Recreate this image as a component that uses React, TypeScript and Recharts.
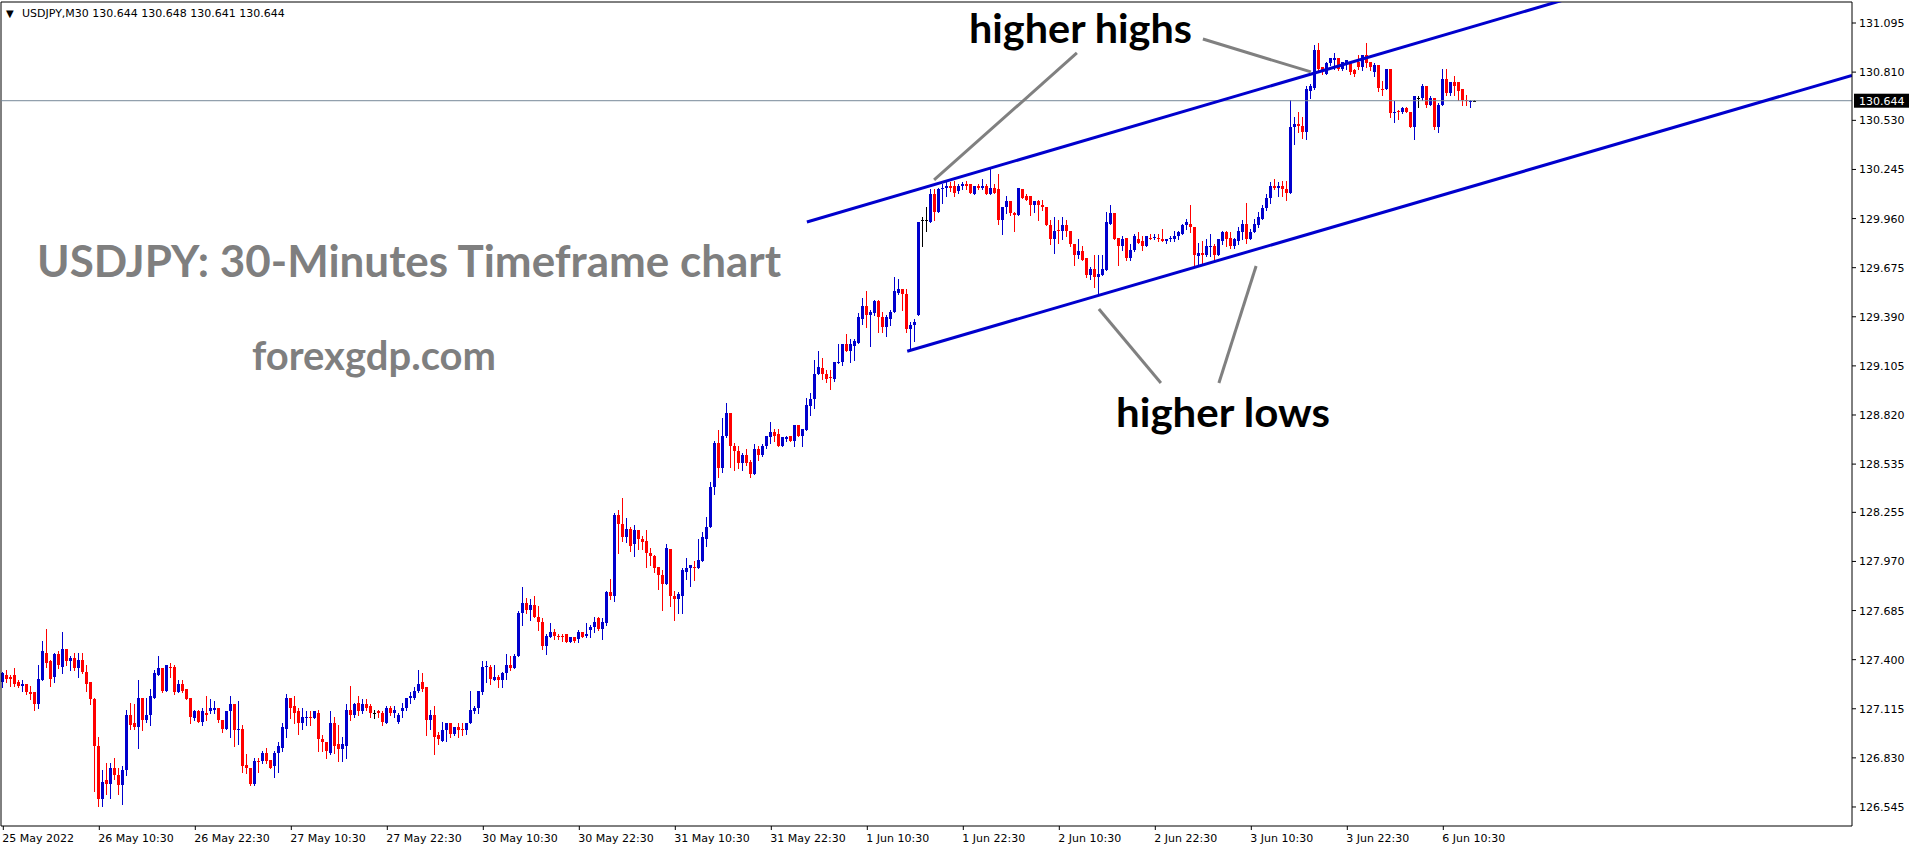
import React from "react";
import { ComposedChart, Bar, XAxis, YAxis, ReferenceLine } from "recharts";

// USDJPY M30 candles (bar index 0 = 25 May 2022 10:30)
const opens = [
  127.27, 127.31, 127.30, 127.31, 127.27, 127.25, 127.26, 127.21, 127.21, 127.14, 127.28, 127.44,
  127.39, 127.30, 127.43, 127.36, 127.46, 127.39, 127.41, 127.35, 127.40, 127.33, 127.27, 127.17,
  126.90, 126.59, 126.70, 126.68, 126.77, 126.73, 126.67, 126.76, 127.08, 127.03, 127.01, 127.18,
  127.05, 127.08, 127.18, 127.31, 127.35, 127.22, 127.36, 127.36, 127.21, 127.26, 127.23, 127.18,
  127.06, 127.10, 127.04, 127.09, 127.10, 127.11, 127.12, 127.05, 127.00, 127.10, 127.14, 126.99,
  127.00, 126.79, 126.77, 126.68, 126.812, 126.81, 126.86, 126.82, 126.78, 126.86, 126.89, 127.00,
  127.18, 127.13, 127.10, 127.03, 127.067, 127.07, 127.06, 127.09, 126.94, 126.92, 126.86, 127.03,
  126.91, 126.88, 126.90, 127.11, 127.08, 127.15, 127.10, 127.14, 127.13, 127.09, 127.10, 127.09,
  127.03, 127.12, 127.09, 127.04, 127.10, 127.12, 127.18, 127.18, 127.22, 127.27, 127.24, 127.05,
  127.08, 126.96, 126.93, 126.99, 127.03, 126.97, 127.01, 127.00, 126.99, 127.03, 127.10, 127.12,
  127.21, 127.358, 127.36, 127.28, 127.30, 127.28, 127.32, 127.37, 127.35, 127.42, 127.67, 127.73,
  127.69, 127.72, 127.65, 127.62, 127.48, 127.53, 127.56, 127.54, 127.54, 127.55, 127.50, 127.53,
  127.52, 127.56, 127.54, 127.57, 127.59, 127.64, 127.58, 127.61, 127.79, 127.77, 128.24, 128.19,
  128.11, 128.16, 128.07, 128.15, 128.10, 128.09, 128.02, 128.00, 127.94, 127.89, 127.84, 128.04,
  127.77, 127.75, 127.77, 127.91, 127.93, 127.94, 127.93, 127.97, 128.10, 128.17, 128.40, 128.66,
  128.51, 128.70, 128.83, 128.64, 128.61, 128.54, 128.59, 128.55, 128.48, 128.62, 128.59, 128.64,
  128.69, 128.72, 128.71, 128.64, 128.68, 128.70, 128.67, 128.76, 128.70, 128.73, 128.87, 128.91,
  129.06, 129.09, 129.06, 129.043, 129.03, 129.12, 129.13, 129.23, 129.19, 129.22, 129.24, 129.38,
  129.45, 129.40, 129.41, 129.48, 129.39, 129.33, 129.38, 129.42, 129.53, 129.55, 129.52, 129.32,
  129.34, 129.40, 129.95, 129.95, 129.94, 130.10, 130.00, 130.13, 130.14, 130.15, 130.15, 130.12,
  130.15, 130.16, 130.16, 130.10, 130.15, 130.14, 130.15, 130.10, 130.14, 130.13, 129.95, 130.03,
  130.06, 129.99, 129.98, 130.13, 130.09, 130.09, 130.04, 130.06, 130.04, 130.03, 129.92, 129.84,
  129.894, 129.89, 129.92, 129.89, 129.81, 129.75, 129.77, 129.73, 129.63, 129.67, 129.62, 129.63,
  129.66, 129.93, 129.99, 129.85, 129.80, 129.85, 129.73, 129.78, 129.84, 129.83, 129.80, 129.85,
  129.847, 129.85, 129.84, 129.83, 129.84, 129.84, 129.86, 129.87, 129.92, 129.93, 129.91, 129.74,
  129.76, 129.75, 129.795, 129.80, 129.75, 129.83, 129.88, 129.85, 129.80, 129.83, 129.88, 129.93,
  129.84, 129.88, 129.92, 129.96, 130.02, 130.08, 130.15, 130.14, 130.15, 130.13, 130.11, 130.49,
  130.51, 130.50, 130.46, 130.70, 130.72, 130.94, 130.84, 130.80, 130.86, 130.88, 130.89, 130.83,
  130.86, 130.86, 130.82, 130.87, 130.84, 130.91, 130.87, 130.81, 130.85, 130.712, 130.71, 130.83,
  130.57, 130.584, 130.58, 130.60, 130.58, 130.49, 130.66, 130.66, 130.73, 130.62, 130.66, 130.49,
  130.62, 130.77, 130.69, 130.75, 130.75, 130.71, 130.65, 130.638, 130.644,
];

const highs = [
  127.33, 127.34, 127.31, 127.35, 127.28, 127.28, 127.26, 127.25, 127.21, 127.37, 127.51, 127.58,
  127.40, 127.44, 127.45, 127.56, 127.46, 127.42, 127.44, 127.44, 127.44, 127.37, 127.27, 127.18,
  126.95, 126.76, 126.80, 126.80, 126.83, 126.77, 126.78, 127.11, 127.15, 127.14, 127.28, 127.18,
  127.18, 127.23, 127.34, 127.42, 127.35, 127.37, 127.38, 127.37, 127.28, 127.28, 127.23, 127.18,
  127.11, 127.11, 127.12, 127.19, 127.17, 127.16, 127.12, 127.05, 127.10, 127.19, 127.14, 127.16,
  127.02, 126.85, 126.77, 126.83, 126.83, 126.87, 126.89, 126.82, 126.87, 126.92, 127.03, 127.20,
  127.18, 127.19, 127.12, 127.12, 127.10, 127.10, 127.10, 127.11, 126.96, 126.92, 127.10, 127.07,
  127.02, 126.95, 127.14, 127.25, 127.15, 127.19, 127.17, 127.17, 127.14, 127.11, 127.11, 127.10,
  127.13, 127.13, 127.13, 127.09, 127.15, 127.18, 127.21, 127.24, 127.34, 127.32, 127.24, 127.11,
  127.13, 126.98, 127.04, 127.03, 127.03, 127.01, 127.03, 127.03, 127.03, 127.22, 127.13, 127.22,
  127.39, 127.39, 127.37, 127.37, 127.31, 127.33, 127.43, 127.42, 127.43, 127.68, 127.82, 127.76,
  127.75, 127.77, 127.71, 127.64, 127.55, 127.61, 127.58, 127.55, 127.55, 127.55, 127.53, 127.53,
  127.57, 127.56, 127.61, 127.60, 127.65, 127.65, 127.64, 127.80, 127.87, 128.25, 128.27, 128.34,
  128.22, 128.17, 128.18, 128.15, 128.12, 128.15, 128.05, 128.01, 127.94, 127.92, 128.07, 128.04,
  127.80, 127.79, 127.93, 127.99, 127.95, 127.97, 128.10, 128.14, 128.23, 128.43, 128.67, 128.73,
  128.80, 128.89, 128.83, 128.66, 128.64, 128.60, 128.62, 128.56, 128.65, 128.64, 128.65, 128.70,
  128.78, 128.74, 128.74, 128.69, 128.70, 128.70, 128.76, 128.76, 128.74, 128.92, 128.95, 129.14,
  129.19, 129.15, 129.08, 129.08, 129.13, 129.23, 129.23, 129.29, 129.26, 129.26, 129.41, 129.50,
  129.54, 129.43, 129.49, 129.49, 129.42, 129.40, 129.43, 129.62, 129.61, 129.55, 129.55, 129.36,
  129.38, 129.94, 129.97, 130.03, 130.13, 130.13, 130.14, 130.16, 130.18, 130.17, 130.18, 130.16,
  130.17, 130.18, 130.16, 130.15, 130.16, 130.19, 130.16, 130.25, 130.16, 130.22, 130.03, 130.09,
  130.06, 130.00, 130.14, 130.13, 130.10, 130.09, 130.06, 130.07, 130.07, 130.03, 129.95, 129.97,
  129.95, 129.97, 129.95, 129.89, 129.81, 129.84, 129.80, 129.73, 129.68, 129.75, 129.75, 129.75,
  130.00, 130.04, 129.99, 129.85, 129.86, 129.85, 129.81, 129.87, 129.88, 129.86, 129.86, 129.87,
  129.87, 129.87, 129.90, 129.84, 129.86, 129.89, 129.89, 129.93, 129.96, 130.04, 129.91, 129.82,
  129.83, 129.84, 129.87, 129.81, 129.84, 129.89, 129.89, 129.88, 129.85, 129.91, 129.95, 130.05,
  129.90, 129.96, 130.00, 130.04, 130.10, 130.17, 130.19, 130.17, 130.18, 130.18, 130.65, 130.55,
  130.58, 130.55, 130.73, 130.74, 130.97, 130.98, 130.84, 130.87, 130.89, 130.92, 130.89, 130.87,
  130.88, 130.87, 130.83, 130.91, 130.91, 130.98, 130.87, 130.86, 130.85, 130.76, 130.83, 130.83,
  130.64, 130.59, 130.61, 130.61, 130.58, 130.67, 130.67, 130.74, 130.73, 130.67, 130.66, 130.63,
  130.83, 130.83, 130.75, 130.79, 130.75, 130.71, 130.68, 130.65, 130.648,
];

const lows = [
  127.24, 127.27, 127.25, 127.25, 127.24, 127.22, 127.20, 127.17, 127.11, 127.12, 127.28, 127.36,
  127.25, 127.27, 127.35, 127.32, 127.37, 127.34, 127.34, 127.30, 127.32, 127.22, 127.14, 126.64,
  126.55, 126.55, 126.62, 126.60, 126.71, 126.62, 126.56, 126.73, 127.00, 127.00, 126.89, 126.99,
  127.04, 127.02, 127.18, 127.31, 127.21, 127.22, 127.30, 127.20, 127.21, 127.21, 127.17, 127.03,
  127.05, 127.04, 127.02, 127.05, 127.09, 127.09, 127.04, 126.98, 127.00, 126.95, 126.90, 126.91,
  126.75, 126.74, 126.67, 126.67, 126.75, 126.80, 126.80, 126.77, 126.72, 126.75, 126.87, 126.95,
  127.06, 127.03, 126.97, 127.00, 127.02, 127.02, 127.06, 126.87, 126.87, 126.83, 126.85, 126.86,
  126.81, 126.81, 126.83, 127.05, 127.07, 127.08, 127.09, 127.11, 127.07, 127.06, 127.07, 127.02,
  127.03, 127.08, 127.07, 127.03, 127.07, 127.11, 127.15, 127.17, 127.21, 127.22, 126.96, 127.00,
  126.85, 126.91, 126.93, 126.93, 126.95, 126.96, 126.95, 126.96, 126.97, 127.03, 127.09, 127.09,
  127.20, 127.27, 127.26, 127.28, 127.24, 127.24, 127.29, 127.34, 127.35, 127.42, 127.60, 127.67,
  127.63, 127.65, 127.57, 127.46, 127.43, 127.53, 127.52, 127.52, 127.51, 127.50, 127.50, 127.50,
  127.50, 127.53, 127.53, 127.53, 127.56, 127.57, 127.52, 127.60, 127.75, 127.74, 128.02, 128.09,
  128.08, 128.03, 128.00, 128.04, 128.04, 127.94, 127.95, 127.91, 127.81, 127.69, 127.84, 127.71,
  127.63, 127.67, 127.67, 127.87, 127.83, 127.86, 127.93, 127.97, 128.06, 128.17, 128.36, 128.46,
  128.49, 128.69, 128.52, 128.50, 128.51, 128.50, 128.53, 128.46, 128.48, 128.56, 128.58, 128.63,
  128.66, 128.67, 128.64, 128.64, 128.67, 128.67, 128.64, 128.70, 128.64, 128.73, 128.82, 128.86,
  129.06, 129.03, 129.01, 128.97, 129.02, 129.12, 129.11, 129.19, 129.13, 129.14, 129.24, 129.35,
  129.33, 129.22, 129.40, 129.30, 129.30, 129.28, 129.34, 129.42, 129.52, 129.43, 129.30, 129.21,
  129.25, 129.40, 129.80, 129.89, 129.94, 129.95, 130.00, 130.05, 130.09, 130.12, 130.09, 130.11,
  130.13, 130.13, 130.11, 130.10, 130.13, 130.13, 130.10, 130.10, 130.11, 129.93, 129.87, 129.99,
  129.98, 129.89, 129.98, 130.08, 130.07, 129.98, 130.00, 129.95, 130.01, 129.92, 129.81, 129.76,
  129.82, 129.84, 129.86, 129.80, 129.69, 129.73, 129.72, 129.62, 129.61, 129.56, 129.53, 129.63,
  129.66, 129.93, 129.84, 129.69, 129.78, 129.72, 129.72, 129.77, 129.82, 129.78, 129.80, 129.84,
  129.84, 129.83, 129.83, 129.82, 129.83, 129.83, 129.84, 129.87, 129.90, 129.88, 129.69, 129.69,
  129.70, 129.74, 129.74, 129.72, 129.75, 129.81, 129.80, 129.79, 129.79, 129.81, 129.84, 129.82,
  129.84, 129.88, 129.91, 129.96, 130.01, 130.05, 130.13, 130.09, 130.09, 130.07, 130.11, 130.39,
  130.46, 130.43, 130.42, 130.66, 130.71, 130.82, 130.80, 130.80, 130.85, 130.83, 130.82, 130.82,
  130.83, 130.80, 130.79, 130.83, 130.82, 130.84, 130.82, 130.79, 130.70, 130.68, 130.71, 130.55,
  130.52, 130.54, 130.57, 130.58, 130.49, 130.42, 130.61, 130.65, 130.61, 130.62, 130.48, 130.46,
  130.62, 130.68, 130.68, 130.68, 130.65, 130.62, 130.62, 130.61, 130.641,
];

const closes = [
  127.32, 127.29, 127.29, 127.26, 127.25, 127.26, 127.21, 127.20, 127.14, 127.29, 127.45, 127.38,
  127.29, 127.43, 127.37, 127.46, 127.39, 127.41, 127.35, 127.40, 127.33, 127.26, 127.17, 126.90,
  126.59, 126.69, 126.68, 126.77, 126.73, 126.67, 126.76, 127.08, 127.02, 127.01, 127.18, 127.05,
  127.08, 127.19, 127.32, 127.35, 127.22, 127.37, 127.35, 127.21, 127.26, 127.22, 127.17, 127.07,
  127.10, 127.04, 127.10, 127.08, 127.12, 127.12, 127.05, 127.00, 127.10, 127.14, 126.99, 127.00,
  126.78, 126.77, 126.68, 126.81, 126.806, 126.86, 126.81, 126.77, 126.86, 126.90, 127.01, 127.18,
  127.12, 127.09, 127.03, 127.07, 127.07, 127.06, 127.10, 126.94, 126.92, 126.87, 127.03, 126.90,
  126.88, 126.91, 127.11, 127.08, 127.14, 127.10, 127.14, 127.12, 127.09, 127.09, 127.09, 127.04,
  127.12, 127.09, 127.11, 127.08, 127.12, 127.18, 127.19, 127.22, 127.26, 127.23, 127.05, 127.08,
  126.95, 126.94, 126.99, 127.03, 126.97, 127.01, 126.99, 126.99, 127.03, 127.11, 127.12, 127.22,
  127.36, 127.363, 127.29, 127.30, 127.28, 127.32, 127.37, 127.35, 127.42, 127.67, 127.73, 127.69,
  127.72, 127.65, 127.62, 127.48, 127.54, 127.56, 127.54, 127.53, 127.53, 127.50, 127.53, 127.51,
  127.56, 127.53, 127.55, 127.59, 127.62, 127.58, 127.62, 127.79, 127.77, 128.24, 128.19, 128.11,
  128.16, 128.06, 128.15, 128.10, 128.08, 128.02, 128.00, 127.93, 127.89, 127.84, 128.05, 127.77,
  127.75, 127.78, 127.92, 127.93, 127.95, 127.93, 127.98, 128.11, 128.17, 128.40, 128.66, 128.51,
  128.70, 128.83, 128.64, 128.61, 128.54, 128.59, 128.54, 128.48, 128.62, 128.59, 128.64, 128.70,
  128.72, 128.70, 128.64, 128.69, 128.69, 128.67, 128.76, 128.70, 128.74, 128.88, 128.91, 129.06,
  129.10, 129.06, 129.03, 129.039, 129.13, 129.13, 129.23, 129.19, 129.23, 129.25, 129.39, 129.45,
  129.40, 129.42, 129.48, 129.39, 129.33, 129.39, 129.42, 129.54, 129.55, 129.52, 129.32, 129.34,
  129.36, 129.94, 129.95, 129.95, 130.10, 130.00, 130.13, 130.14, 130.15, 130.14, 130.11, 130.15,
  130.16, 130.15, 130.11, 130.15, 130.14, 130.15, 130.10, 130.14, 130.11, 129.95, 130.03, 130.06,
  129.99, 129.98, 130.14, 130.08, 130.07, 130.04, 130.06, 130.04, 130.03, 129.92, 129.84, 129.89,
  129.888, 129.92, 129.89, 129.81, 129.75, 129.77, 129.72, 129.63, 129.67, 129.62, 129.64, 129.67,
  129.94, 129.99, 129.84, 129.80, 129.84, 129.73, 129.78, 129.86, 129.82, 129.80, 129.86, 129.84,
  129.853, 129.84, 129.83, 129.84, 129.85, 129.86, 129.88, 129.92, 129.94, 129.91, 129.75, 129.76,
  129.75, 129.80, 129.80, 129.75, 129.84, 129.88, 129.84, 129.80, 129.84, 129.89, 129.93, 129.84,
  129.88, 129.93, 129.97, 130.02, 130.08, 130.15, 130.14, 130.15, 130.13, 130.11, 130.49, 130.51,
  130.50, 130.46, 130.71, 130.73, 130.94, 130.83, 130.81, 130.86, 130.89, 130.89, 130.83, 130.87,
  130.88, 130.81, 130.80, 130.84, 130.91, 130.86, 130.84, 130.85, 130.72, 130.706, 130.83, 130.57,
  130.58, 130.578, 130.60, 130.58, 130.49, 130.67, 130.66, 130.73, 130.62, 130.66, 130.49, 130.62,
  130.77, 130.69, 130.75, 130.73, 130.70, 130.65, 130.64, 130.643, 130.644,
];

const xTickBars = [0, 24, 48, 72, 96, 120, 144, 168, 192, 216, 240, 264, 288, 312, 336, 360];
const xTickLabels = [
  "25 May 2022", "26 May 10:30", "26 May 22:30", "27 May 10:30", "27 May 22:30", "30 May 10:30",
  "30 May 22:30", "31 May 10:30", "31 May 22:30", "1 Jun 10:30", "1 Jun 22:30", "2 Jun 10:30",
  "2 Jun 22:30", "3 Jun 10:30", "3 Jun 22:30", "6 Jun 10:30",
];
const priceTicks = [
  131.095, 130.81, 130.53, 130.245, 129.96, 129.675, 129.39, 129.105, 128.82,
  128.535, 128.255, 127.97, 127.685, 127.4, 127.115, 126.83, 126.545,
];
const lastPrice = 130.644;
const lastBar = [130.644, 130.648, 130.641, 130.644];

// trend lines (bar index, price)
const upperChannel = [{ x: 200.9, y: 129.94 }, { x: 399.2, y: 131.291 }];
const lowerChannel = [{ x: 225.98, y: 129.19 }, { x: 462.175, y: 130.791 }];
// grey pointer lines
const pointerHH1 = [{ x: 232.7, y: 130.184 }, { x: 268.4, y: 130.921 }];
const pointerHH2 = [{ x: 299.9, y: 131.002 }, { x: 326.9, y: 130.811 }];
const pointerHL1 = [{ x: 273.9, y: 129.435 }, { x: 289.4, y: 129.006 }];
const pointerHL2 = [{ x: 313.2, y: 129.685 }, { x: 303.9, y: 129.006 }];

const X_DOMAIN: [number, number] = [-0.575, 462.175];
const Y_DOMAIN: [number, number] = [126.4346, 131.2169];

const UP = "#0000cd";
const DOWN = "#ff0000";
const DOJI = "#000000";
const AXIS_FONT = "'DejaVu Sans', Verdana, sans-serif";
const NOTE_FONT = "Lato, 'Open Sans', sans-serif";

const candles = opens.map((o, i) => ({
  i,
  o,
  h: highs[i],
  l: lows[i],
  c: closes[i],
  range: [lows[i], highs[i]],
}));

function Candle(props: any) {
  const { x, y, width, height, payload } = props;
  if (!payload || x == null || y == null) return null;
  const { o, h, l, c } = payload;
  const top = Math.min(y, y + height);
  const span = Math.abs(height);
  const k = h > l ? span / (h - l) : 0;
  const py = (v: number) => top + (h - v) * k;
  const cx = Math.round(x + width / 2 - 0.5);
  const color = c > o ? UP : c < o ? DOWN : DOJI;
  const wt = Math.round(top);
  const wb = Math.round(top + span);
  const bt = Math.round(py(Math.max(o, c)));
  const bb = Math.round(py(Math.min(o, c)));
  return (
    <g shapeRendering="crispEdges">
      <rect x={cx} y={wt} width={1} height={Math.max(1, wb - wt + 1)} fill={color} />
      <rect x={cx - 1} y={bt} width={3} height={Math.max(1, bb - bt)} fill={color} />
    </g>
  );
}

function XTick(props: any) {
  const { x, y, payload } = props;
  const idx = xTickBars.indexOf(payload.value);
  return (
    <text x={x - 1} y={y + 12} textAnchor="start" fontSize={11} fontFamily={AXIS_FONT} fill="#000">
      {idx >= 0 ? xTickLabels[idx] : ""}
    </text>
  );
}

function YTick(props: any) {
  const { x, y, payload } = props;
  return (
    <text x={x} y={y + 4} textAnchor="start" fontSize={11} fontFamily={AXIS_FONT} fill="#000">
      {Number(payload.value).toFixed(3)}
    </text>
  );
}

function PriceTag(props: any) {
  const vb = props.viewBox || {};
  const right = (vb.x || 0) + (vb.width || 0);
  const yy = vb.y || 0;
  return (
    <g>
      <rect x={right + 2} y={yy - 7} width={55} height={14} fill="#000" />
      <text x={right + 7} y={yy + 4} fontSize={11} fontFamily={AXIS_FONT} fill="#fff">
        {lastPrice.toFixed(3)}
      </text>
    </g>
  );
}

export default function App() {
  const W = 1916;
  const H = 850;
  return (
    <div style={{ position: "absolute", left: 0, top: 0, width: W, height: H, background: "#fff" }}>
      <ComposedChart width={W} height={H} data={candles} margin={{ top: 2, right: 0, bottom: 0, left: 1 }}>
        <XAxis
          dataKey="i"
          type="number"
          domain={X_DOMAIN}
          allowDataOverflow
          ticks={xTickBars}
          interval={0}
          height={24}
          tickSize={4}
          tickMargin={0}
          axisLine={{ stroke: "#000" }}
          tickLine={{ stroke: "#000" }}
          tick={XTick}
        />
        <YAxis
          orientation="right"
          type="number"
          domain={Y_DOMAIN}
          allowDataOverflow
          ticks={priceTicks}
          interval={0}
          width={64}
          tickSize={4}
          tickMargin={3}
          axisLine={{ stroke: "#000" }}
          tickLine={{ stroke: "#000" }}
          tick={YTick}
        />
        <ReferenceLine y={Y_DOMAIN[1]} stroke="#000" ifOverflow="visible" />
        <ReferenceLine x={X_DOMAIN[0]} stroke="#000" ifOverflow="visible" />
        <ReferenceLine y={lastPrice} stroke="#778899" strokeWidth={1} ifOverflow="visible" label={PriceTag} />
        <Bar dataKey="range" barSize={3} isAnimationActive={false} shape={Candle} />
        <ReferenceLine segment={upperChannel} stroke={UP} strokeWidth={3} ifOverflow="hidden" />
        <ReferenceLine segment={lowerChannel} stroke={UP} strokeWidth={3} ifOverflow="hidden" />
        <ReferenceLine segment={pointerHH1} stroke="#808080" strokeWidth={3} ifOverflow="visible" />
        <ReferenceLine segment={pointerHH2} stroke="#808080" strokeWidth={3} ifOverflow="visible" />
        <ReferenceLine segment={pointerHL1} stroke="#808080" strokeWidth={3} ifOverflow="visible" />
        <ReferenceLine segment={pointerHL2} stroke="#808080" strokeWidth={3} ifOverflow="visible" />
      </ComposedChart>
      <svg width={W} height={H} style={{ position: "absolute", left: 0, top: 0, pointerEvents: "none" }}>
        <text x={6} y={17} fontSize={10} fontFamily={AXIS_FONT} fill="#000">▼</text>
        <text x={22} y={17} fontSize={11} fontFamily={AXIS_FONT} fill="#000">
          {"USDJPY,M30  " + lastBar.map((v) => v.toFixed(3)).join(" ")}
        </text>
        <text x={37} y={277} fontSize={44} fontWeight={700} fontFamily={NOTE_FONT} fill="#7f7f7f" textLength={744} lengthAdjust="spacingAndGlyphs">
          USDJPY: 30-Minutes Timeframe chart
        </text>
        <text x={252} y={370} fontSize={40} fontWeight={700} fontFamily={NOTE_FONT} fill="#7f7f7f" textLength={244} lengthAdjust="spacingAndGlyphs">
          forexgdp.com
        </text>
        <text x={969} y={43} fontSize={40} fontWeight={700} fontFamily={NOTE_FONT} fill="#000" textLength={223} lengthAdjust="spacingAndGlyphs">
          higher highs
        </text>
        <text x={1116} y={427} fontSize={40} fontWeight={700} fontFamily={NOTE_FONT} fill="#000" textLength={214} lengthAdjust="spacingAndGlyphs">
          higher lows
        </text>
      </svg>
    </div>
  );
}
